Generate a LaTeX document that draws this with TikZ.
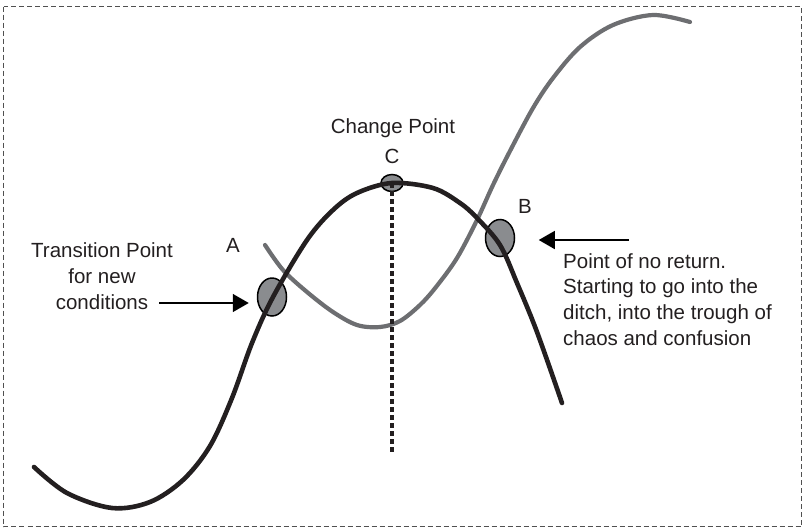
\documentclass[tikz,border=0pt]{standalone}
\usepackage{fontspec}
\setmainfont{Liberation Sans}
\usetikzlibrary{arrows.meta,shapes.geometric,calc}
\definecolor{curveblack}{HTML}{231F20}
\definecolor{curvegray}{HTML}{6D6E71}
\definecolor{spotgray}{HTML}{8A8C8F}
\definecolor{framecol}{HTML}{505050}
\definecolor{txtcol}{HTML}{231F20}
\begin{document}
\begin{tikzpicture}[x=1pt,y=-1pt,
  txt/.style={font=\fontsize{20.5}{25.6}\selectfont, inner sep=0pt, text=txtcol},
  blk/.style={line width=4.6pt, draw=curveblack, line cap=round},
  gry/.style={line width=4.2pt, draw=curvegray, line cap=round},
  spot/.style={ellipse, draw=black, line width=1.5pt, fill=spotgray, inner sep=0pt},
  pointer/.style={line width=1.5pt, draw=black, -{Triangle[length=16pt,width=18pt]}},
  centreline/.style={line width=3.2pt, draw=curveblack, dash pattern=on 4.5pt off 3.5pt},
]
\useasboundingbox (0,0) rectangle (803,528);
\draw[framecol, line width=1.2pt, dash pattern=on 5pt off 3pt] (3.5,6.5) rectangle (801.5,526.5);

% spots
\node[spot, minimum width=29pt, minimum height=38pt] (A) at (272,297) {};
\node[spot, minimum width=29pt, minimum height=37pt] (B) at (500,238) {};
\node[spot, minimum width=22pt, minimum height=17pt] (C) at (392,183) {};

% gray curve
\draw[gry] plot[smooth, tension=0.55] coordinates {(265,245) (283,270) (307,292) (333,312) (357,325) (380,327) (400,321) (420,305) (436,287) (457,258) (477,220) (493,185) (510,151) (533,108) (553,78) (580,47) (613,25) (653,15) (690,22)};

% black curve
\draw[blk] plot[smooth, tension=0.55] coordinates {(34,467) (67,493) (112,508) (150,502) (183,480) (210,446) (232,398) (252,343) (273,297) (307,240) (333,210) (357,193) (392,183) (433,188) (460,203) (477,218) (500,245) (517,283) (537,332) (562,403)};

% centre line
\coordinate (cbot) at (392,452);
\draw[centreline] (C.center) -- (cbot);

% labels
\node[txt, anchor=base] (cp) at (393,133) {Change Point};
\node[txt, anchor=base] (lc) at (392,163) {C};
\node[txt, anchor=base] (la) at (233,252) {A};
\node[txt, anchor=base] (lb) at (525,213) {B};

\node[txt, align=center, anchor=base] (tp) at (102,309) {Transition Point\\for new\\conditions};
\node[txt, align=left, anchor=base west] (nr) at (563,345) {Point of no return.\\Starting to go into the\\ditch, into the trough of\\chaos and confusion};

% arrows
\coordinate (lstart) at (159,303);
\coordinate (rstart) at (629,240);
\draw[pointer] (lstart) -- ($(A.west)+(-8,6)$);
\draw[pointer] (rstart) -- ($(B.east)+(23.5,2)$);
\end{tikzpicture}
\end{document}
